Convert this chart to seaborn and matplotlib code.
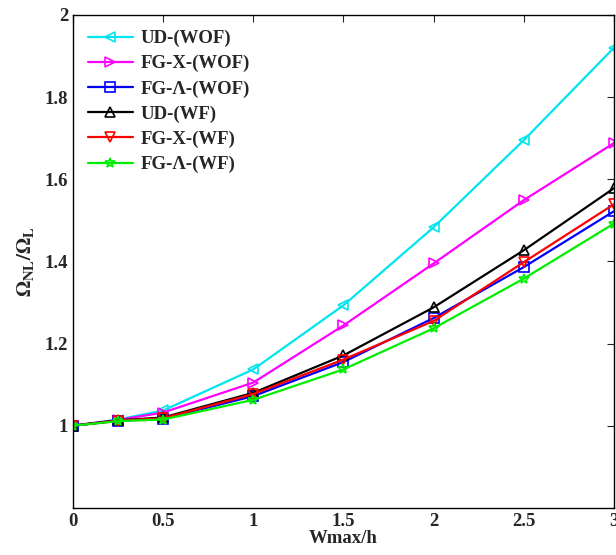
import numpy as np
import pandas as pd
import matplotlib
matplotlib.use('Agg')
import matplotlib.pyplot as plt
import seaborn as sns

# values
w_ratio = [0, 0.25, 0.5, 1.0, 1.5, 2.0, 2.5, 3.0]
ud_wof = [1.0, 1.015, 1.037, 1.137, 1.293, 1.483, 1.695, 1.92]
fgx_wof = [1.0, 1.014, 1.032, 1.105, 1.244, 1.395, 1.549, 1.688]
fga_wof = [1.0, 1.012, 1.017, 1.072, 1.155, 1.262, 1.386, 1.522]
ud_wf = [1.0, 1.013, 1.02, 1.08, 1.171, 1.288, 1.427, 1.578]
fgx_wf = [1.0, 1.012, 1.018, 1.077, 1.161, 1.255, 1.398, 1.539]
fga_wf = [1.0, 1.011, 1.015, 1.063, 1.137, 1.237, 1.358, 1.492]

labels = ['UD-(WOF)', 'FG-X-(WOF)', 'FG-\u039b-(WOF)', 'UD-(WF)', 'FG-X-(WF)', 'FG-\u039b-(WF)']
colors = ['#00e5ee', '#ff00ff', '#0000ff', '#000000', '#ff0000', '#00ee00']
markers = ['<', '>', 's', '^', 'v', '*']

data = pd.DataFrame({
    'x': w_ratio * 6,
    'y': ud_wof + fgx_wof + fga_wof + ud_wf + fgx_wf + fga_wf,
    'series': np.repeat(labels, len(w_ratio)),
})

sns.set_style('white')
plt.rcParams['font.family'] = ['Liberation Serif', 'DejaVu Serif']
plt.rcParams['font.weight'] = 'bold'
plt.rcParams['mathtext.fontset'] = 'stix'

fig = plt.figure(figsize=(6.16, 5.55), dpi=100)
ax = fig.add_axes([0.1185, 0.085, 0.878, 0.888])

for lab, col, mk in zip(labels, colors, markers):
    sub = data[data['series'] == lab]
    sns.lineplot(data=sub, x='x', y='y', ax=ax, color=col, marker=mk, markersize=7,
                 markerfacecolor='none', markeredgecolor=col, markeredgewidth=1.2,
                 linewidth=1.6, label=lab)

ax.set_xlim(0, 3)
ax.set_ylim(0.8, 2.0)
ax.set_xticks([0, 0.5, 1, 1.5, 2, 2.5, 3])
ax.set_xticklabels(['0', '0.5', '1', '1.5', '2', '2.5', '3'])
ax.set_yticks([1, 1.2, 1.4, 1.6, 1.8, 2])
ax.set_yticklabels(['1', '1.2', '1.4', '1.6', '1.8', '2'])
ax.tick_params(direction='in', length=5, top=True, right=True, labelsize=13.5, width=0.8)
for lbl in ax.get_xticklabels() + ax.get_yticklabels():
    lbl.set_fontweight('bold')
for sp in ax.spines.values():
    sp.set_linewidth(1.0)
    sp.set_color('black')

ax.set_xlabel('Wmax/h', fontsize=13.5, fontweight='bold', labelpad=0)
ax.set_ylabel(r'$\mathbf{\Omega_{NL}/\Omega_L}$', fontsize=15, labelpad=6)

leg = ax.legend(loc='upper left', frameon=False, fontsize=13.5, handlelength=2.4,
                labelspacing=0.42, borderaxespad=0.4, handletextpad=0.4)
for t in leg.get_texts():
    t.set_fontweight('bold')

fig.savefig('out.png', dpi=100)
